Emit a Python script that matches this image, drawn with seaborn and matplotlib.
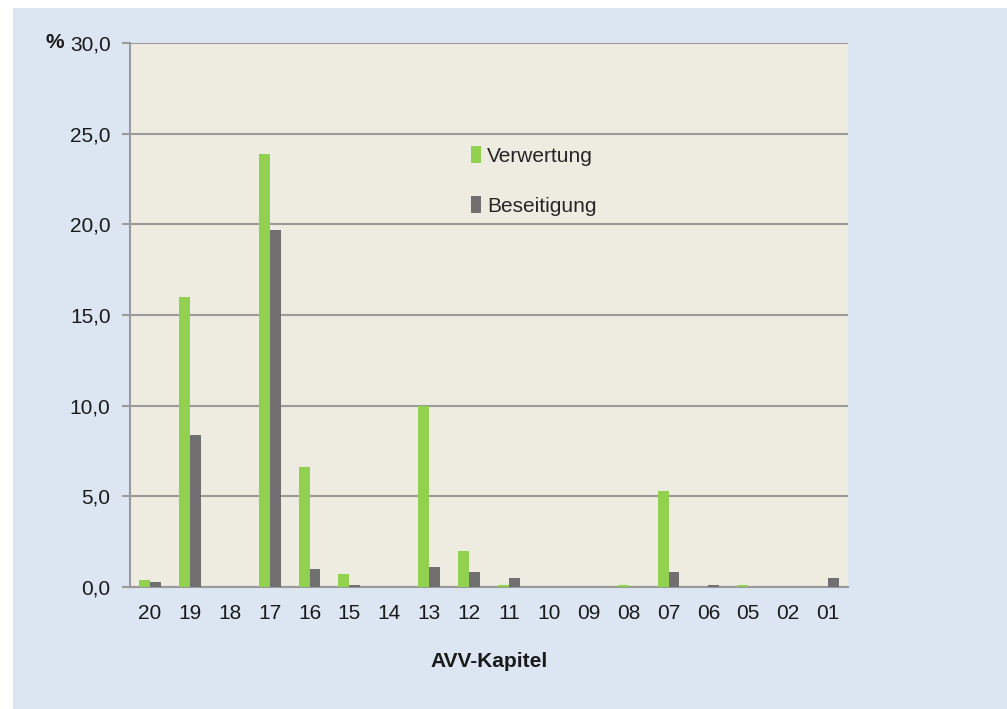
import matplotlib
matplotlib.use("Agg")
import matplotlib.pyplot as plt
import matplotlib.patches as mpatches
from matplotlib.ticker import FuncFormatter
import pandas as pd
import seaborn as sns

# AVV chapters and shares (%)
chapters = ["20", "19", "18", "17", "16", "15", "14", "13", "12",
            "11", "10", "09", "08", "07", "06", "05", "02", "01"]
verwertung = [0.4, 16.0, 0.0, 23.9, 6.6, 0.7, 0.0, 10.0, 2.0,
              0.1, 0.0, 0.0, 0.1, 5.3, 0.0, 0.1, 0.0, 0.0]
beseitigung = [0.3, 8.4, 0.0, 19.7, 1.0, 0.1, 0.0, 1.1, 0.8,
               0.5, 0.0, 0.0, 0.0, 0.8, 0.1, 0.0, 0.0, 0.5]
series = ["Verwertung", "Beseitigung"]
yticks = [0, 5, 10, 15, 20, 25, 30]

GREEN = "#92d050"
GRAY = "#707070"
PANEL_BG = "#dce6f2"
PLOT_BG = "#eeebe0"
GRID = "#9a9a9a"

df = pd.DataFrame({
    "Kapitel": chapters * 2,
    "Anteil": verwertung + beseitigung,
    "Art": [series[0]] * len(chapters) + [series[1]] * len(chapters),
})

sns.set_theme(style="white")
plt.rcParams["font.family"] = ["Liberation Sans Narrow", "Liberation Sans", "DejaVu Sans"]

fig = plt.figure(figsize=(10.07, 7.09), dpi=100)
fig.patch.set_facecolor("white")
# light blue panel behind the chart
fig.patches.append(mpatches.Rectangle((13 / 1007, 0), 1 - 13 / 1007, 1 - 8 / 709,
                                      transform=fig.transFigure, facecolor=PANEL_BG,
                                      edgecolor="none", zorder=-10))

ax = fig.add_axes([130 / 1007, 1 - 587 / 709, 718 / 1007, 544 / 709])
ax.set_facecolor(PLOT_BG)

sns.barplot(data=df, x="Kapitel", y="Anteil", hue="Art", order=chapters,
            hue_order=series, palette=[GREEN, GRAY], width=0.55, gap=0,
            saturation=1, linewidth=0, ax=ax, zorder=3)

ax.set_xlim(-0.5, len(chapters) - 0.5)
ax.set_ylim(0, 30)
ax.set_yticks(yticks)
ax.yaxis.set_major_formatter(FuncFormatter(lambda v, p: f"{v:.1f}".replace(".", ",")))
ax.yaxis.grid(True, color=GRID, linewidth=1.5, zorder=0)
ax.set_axisbelow(True)

# ticks between categories on the x axis
ax.set_xticks(range(len(chapters)))
ax.set_xticklabels(chapters)
ax.set_xticks([i - 0.5 for i in range(len(chapters) + 1)], minor=True)
ax.tick_params(axis="x", which="major", length=0, pad=12, labelsize=15, colors="#1a1a1a")
ax.tick_params(axis="x", which="minor", length=6, width=1.2, color=GRID, direction="out")
ax.tick_params(axis="y", length=6, width=1.5, color=GRID, pad=8, labelsize=15,
               labelcolor="#1a1a1a", left=True)

for side in ["top", "right"]:
    ax.spines[side].set_visible(False)
for side in ["left", "bottom"]:
    ax.spines[side].set_color(GRID)
    ax.spines[side].set_linewidth(1.5)

ax.set_ylabel("")
ax.set_xlabel("AVV-Kapitel", fontsize=15, fontweight="bold", labelpad=21, color="#1a1a1a")
fig.text(45 / 1007, 1 - 43 / 709, "%", fontsize=15, fontweight="bold",
         va="center", ha="left", color="#1a1a1a")

leg = ax.legend(loc="upper left", bbox_to_anchor=(0.449, 0.845), frameon=False,
                fontsize=15, handlelength=0.45, handleheight=0.9, handletextpad=0.3,
                labelspacing=1.45)

fig.savefig("out.png", dpi=100, facecolor=fig.get_facecolor())
